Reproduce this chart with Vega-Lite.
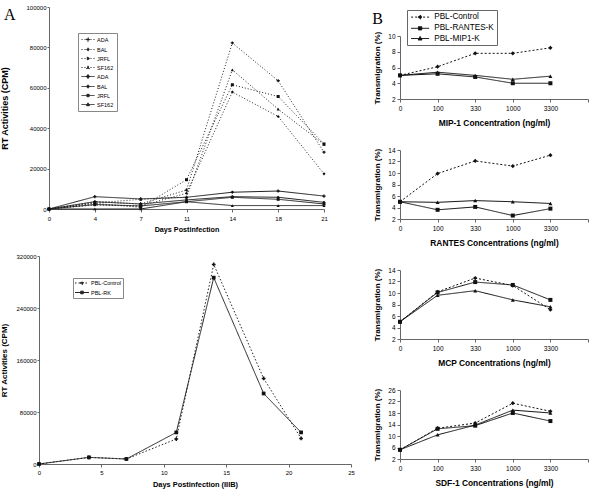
{
 "$schema": "https://vega.github.io/schema/vega-lite/v6.json",
 "background": "white",
 "padding": {"left": 0, "top": 4, "right": 4, "bottom": 4},
 "config": {
  "font": "Liberation Sans",
  "view": {"stroke": null},
  "axis": {"grid": false, "domainColor": "#666", "tickColor": "#666", "domainWidth": 1, "tickWidth": 1, "tickSize": 3, "labelColor": "#000", "titleColor": "#000", "labelFont": "Liberation Sans", "titleFont": "Liberation Sans", "titleFontWeight": "bold", "labelFlush": false, "labelOverlap": false},
  "legend": {"labelFont": "Liberation Sans", "labelColor": "#000", "strokeColor": "#888", "fillColor": "white"},
  "title": {"font": "Liberation Serif", "fontWeight": "normal", "color": "#000", "fontSize": 16, "anchor": "start", "frame": "bounds"}
 },
 "datasets": {
  "rtStrains": [
   {"day": 0, "cpm": 0, "series": "ADA (dotted)"}, {"day": 4, "cpm": 3600, "series": "ADA (dotted)"}, {"day": 7, "cpm": 2500, "series": "ADA (dotted)"}, {"day": 11, "cpm": 9400, "series": "ADA (dotted)"}, {"day": 14, "cpm": 82200, "series": "ADA (dotted)"}, {"day": 18, "cpm": 63500, "series": "ADA (dotted)"}, {"day": 21, "cpm": 28100, "series": "ADA (dotted)"},
   {"day": 0, "cpm": 0, "series": "BAL (dotted)"}, {"day": 4, "cpm": 2000, "series": "BAL (dotted)"}, {"day": 7, "cpm": 1500, "series": "BAL (dotted)"}, {"day": 11, "cpm": 7800, "series": "BAL (dotted)"}, {"day": 14, "cpm": 57900, "series": "BAL (dotted)"}, {"day": 18, "cpm": 45800, "series": "BAL (dotted)"}, {"day": 21, "cpm": 17400, "series": "BAL (dotted)"},
   {"day": 0, "cpm": 0, "series": "JRFL (dotted)"}, {"day": 4, "cpm": 2800, "series": "JRFL (dotted)"}, {"day": 7, "cpm": 800, "series": "JRFL (dotted)"}, {"day": 11, "cpm": 14500, "series": "JRFL (dotted)"}, {"day": 14, "cpm": 61500, "series": "JRFL (dotted)"}, {"day": 18, "cpm": 55700, "series": "JRFL (dotted)"}, {"day": 21, "cpm": 32200, "series": "JRFL (dotted)"},
   {"day": 0, "cpm": 0, "series": "SF162 (dotted)"}, {"day": 4, "cpm": 3000, "series": "SF162 (dotted)"}, {"day": 7, "cpm": 4800, "series": "SF162 (dotted)"}, {"day": 11, "cpm": 5800, "series": "SF162 (dotted)"}, {"day": 14, "cpm": 68900, "series": "SF162 (dotted)"}, {"day": 18, "cpm": 49400, "series": "SF162 (dotted)"}, {"day": 21, "cpm": 32000, "series": "SF162 (dotted)"},
   {"day": 0, "cpm": 0, "series": "ADA (solid)"}, {"day": 4, "cpm": 6100, "series": "ADA (solid)"}, {"day": 7, "cpm": 5000, "series": "ADA (solid)"}, {"day": 11, "cpm": 5800, "series": "ADA (solid)"}, {"day": 14, "cpm": 8300, "series": "ADA (solid)"}, {"day": 18, "cpm": 8900, "series": "ADA (solid)"}, {"day": 21, "cpm": 6400, "series": "ADA (solid)"},
   {"day": 0, "cpm": 0, "series": "BAL (solid)"}, {"day": 4, "cpm": 3600, "series": "BAL (solid)"}, {"day": 7, "cpm": 2500, "series": "BAL (solid)"}, {"day": 11, "cpm": 4500, "series": "BAL (solid)"}, {"day": 14, "cpm": 6100, "series": "BAL (solid)"}, {"day": 18, "cpm": 5800, "series": "BAL (solid)"}, {"day": 21, "cpm": 3300, "series": "BAL (solid)"},
   {"day": 0, "cpm": 0, "series": "JRFL (solid)"}, {"day": 4, "cpm": 2200, "series": "JRFL (solid)"}, {"day": 7, "cpm": 1500, "series": "JRFL (solid)"}, {"day": 11, "cpm": 3600, "series": "JRFL (solid)"}, {"day": 14, "cpm": 5800, "series": "JRFL (solid)"}, {"day": 18, "cpm": 4800, "series": "JRFL (solid)"}, {"day": 21, "cpm": 2500, "series": "JRFL (solid)"},
   {"day": 0, "cpm": 0, "series": "SF162 (solid)"}, {"day": 4, "cpm": 0, "series": "SF162 (solid)"}, {"day": 7, "cpm": 0, "series": "SF162 (solid)"}, {"day": 11, "cpm": 3600, "series": "SF162 (solid)"}, {"day": 14, "cpm": 1700, "series": "SF162 (solid)"}, {"day": 18, "cpm": 1700, "series": "SF162 (solid)"}, {"day": 21, "cpm": 1700, "series": "SF162 (solid)"}
  ],
  "rtIIIB": [
   {"day": 0, "cpm": 0, "series": "PBL-Control"}, {"day": 4, "cpm": 10200, "series": "PBL-Control"}, {"day": 7, "cpm": 7700, "series": "PBL-Control"}, {"day": 11, "cpm": 38400, "series": "PBL-Control"}, {"day": 14, "cpm": 307000, "series": "PBL-Control"}, {"day": 18, "cpm": 131600, "series": "PBL-Control"}, {"day": 21, "cpm": 39400, "series": "PBL-Control"},
   {"day": 0, "cpm": 0, "series": "PBL-RK"}, {"day": 4, "cpm": 10200, "series": "PBL-RK"}, {"day": 7, "cpm": 7700, "series": "PBL-RK"}, {"day": 11, "cpm": 48600, "series": "PBL-RK"}, {"day": 14, "cpm": 286700, "series": "PBL-RK"}, {"day": 18, "cpm": 108500, "series": "PBL-RK"}, {"day": 21, "cpm": 48600, "series": "PBL-RK"}
  ],
  "trans": [
   {"chemokine": "MIP-1", "conc": "0", "cells": "PBL-Control", "pct": 5.0}, {"chemokine": "MIP-1", "conc": "100", "cells": "PBL-Control", "pct": 6.1}, {"chemokine": "MIP-1", "conc": "330", "cells": "PBL-Control", "pct": 7.8}, {"chemokine": "MIP-1", "conc": "1000", "cells": "PBL-Control", "pct": 7.8}, {"chemokine": "MIP-1", "conc": "3300", "cells": "PBL-Control", "pct": 8.5},
   {"chemokine": "MIP-1", "conc": "0", "cells": "PBL-RANTES-K", "pct": 5.0}, {"chemokine": "MIP-1", "conc": "100", "cells": "PBL-RANTES-K", "pct": 5.2}, {"chemokine": "MIP-1", "conc": "330", "cells": "PBL-RANTES-K", "pct": 4.8}, {"chemokine": "MIP-1", "conc": "1000", "cells": "PBL-RANTES-K", "pct": 4.0}, {"chemokine": "MIP-1", "conc": "3300", "cells": "PBL-RANTES-K", "pct": 4.0},
   {"chemokine": "MIP-1", "conc": "0", "cells": "PBL-MIP1-K", "pct": 5.0}, {"chemokine": "MIP-1", "conc": "100", "cells": "PBL-MIP1-K", "pct": 5.4}, {"chemokine": "MIP-1", "conc": "330", "cells": "PBL-MIP1-K", "pct": 5.0}, {"chemokine": "MIP-1", "conc": "1000", "cells": "PBL-MIP1-K", "pct": 4.5}, {"chemokine": "MIP-1", "conc": "3300", "cells": "PBL-MIP1-K", "pct": 4.9},
   {"chemokine": "RANTES", "conc": "0", "cells": "PBL-Control", "pct": 5.0}, {"chemokine": "RANTES", "conc": "100", "cells": "PBL-Control", "pct": 9.9}, {"chemokine": "RANTES", "conc": "330", "cells": "PBL-Control", "pct": 12.1}, {"chemokine": "RANTES", "conc": "1000", "cells": "PBL-Control", "pct": 11.2}, {"chemokine": "RANTES", "conc": "3300", "cells": "PBL-Control", "pct": 13.1},
   {"chemokine": "RANTES", "conc": "0", "cells": "PBL-RANTES-K", "pct": 5.0}, {"chemokine": "RANTES", "conc": "100", "cells": "PBL-RANTES-K", "pct": 3.6}, {"chemokine": "RANTES", "conc": "330", "cells": "PBL-RANTES-K", "pct": 4.1}, {"chemokine": "RANTES", "conc": "1000", "cells": "PBL-RANTES-K", "pct": 2.6}, {"chemokine": "RANTES", "conc": "3300", "cells": "PBL-RANTES-K", "pct": 3.8},
   {"chemokine": "RANTES", "conc": "0", "cells": "PBL-MIP1-K", "pct": 5.0}, {"chemokine": "RANTES", "conc": "100", "cells": "PBL-MIP1-K", "pct": 4.9}, {"chemokine": "RANTES", "conc": "330", "cells": "PBL-MIP1-K", "pct": 5.2}, {"chemokine": "RANTES", "conc": "1000", "cells": "PBL-MIP1-K", "pct": 5.0}, {"chemokine": "RANTES", "conc": "3300", "cells": "PBL-MIP1-K", "pct": 4.7},
   {"chemokine": "MCP", "conc": "0", "cells": "PBL-Control", "pct": 5.0}, {"chemokine": "MCP", "conc": "100", "cells": "PBL-Control", "pct": 10.2}, {"chemokine": "MCP", "conc": "330", "cells": "PBL-Control", "pct": 12.6}, {"chemokine": "MCP", "conc": "1000", "cells": "PBL-Control", "pct": 11.3}, {"chemokine": "MCP", "conc": "3300", "cells": "PBL-Control", "pct": 7.1},
   {"chemokine": "MCP", "conc": "0", "cells": "PBL-RANTES-K", "pct": 5.0}, {"chemokine": "MCP", "conc": "100", "cells": "PBL-RANTES-K", "pct": 10.1}, {"chemokine": "MCP", "conc": "330", "cells": "PBL-RANTES-K", "pct": 11.9}, {"chemokine": "MCP", "conc": "1000", "cells": "PBL-RANTES-K", "pct": 11.4}, {"chemokine": "MCP", "conc": "3300", "cells": "PBL-RANTES-K", "pct": 8.8},
   {"chemokine": "MCP", "conc": "0", "cells": "PBL-MIP1-K", "pct": 5.0}, {"chemokine": "MCP", "conc": "100", "cells": "PBL-MIP1-K", "pct": 9.6}, {"chemokine": "MCP", "conc": "330", "cells": "PBL-MIP1-K", "pct": 10.4}, {"chemokine": "MCP", "conc": "1000", "cells": "PBL-MIP1-K", "pct": 8.8}, {"chemokine": "MCP", "conc": "3300", "cells": "PBL-MIP1-K", "pct": 7.6},
   {"chemokine": "SDF-1", "conc": "0", "cells": "PBL-Control", "pct": 5.2}, {"chemokine": "SDF-1", "conc": "100", "cells": "PBL-Control", "pct": 12.7}, {"chemokine": "SDF-1", "conc": "330", "cells": "PBL-Control", "pct": 14.5}, {"chemokine": "SDF-1", "conc": "1000", "cells": "PBL-Control", "pct": 21.4}, {"chemokine": "SDF-1", "conc": "3300", "cells": "PBL-Control", "pct": 18.6},
   {"chemokine": "SDF-1", "conc": "0", "cells": "PBL-RANTES-K", "pct": 5.2}, {"chemokine": "SDF-1", "conc": "100", "cells": "PBL-RANTES-K", "pct": 12.5}, {"chemokine": "SDF-1", "conc": "330", "cells": "PBL-RANTES-K", "pct": 13.6}, {"chemokine": "SDF-1", "conc": "1000", "cells": "PBL-RANTES-K", "pct": 18.0}, {"chemokine": "SDF-1", "conc": "3300", "cells": "PBL-RANTES-K", "pct": 15.2},
   {"chemokine": "SDF-1", "conc": "0", "cells": "PBL-MIP1-K", "pct": 5.2}, {"chemokine": "SDF-1", "conc": "100", "cells": "PBL-MIP1-K", "pct": 10.4}, {"chemokine": "SDF-1", "conc": "330", "cells": "PBL-MIP1-K", "pct": 13.8}, {"chemokine": "SDF-1", "conc": "1000", "cells": "PBL-MIP1-K", "pct": 19.0}, {"chemokine": "SDF-1", "conc": "3300", "cells": "PBL-MIP1-K", "pct": 18.0}
  ]
 },
 "columns": 2,
 "align": "none",
 "spacing": 17,
 "resolve": {"scale": {"strokeDash": "independent"}, "legend": {"strokeDash": "independent"}},
 "concat": [
  {
   "columns": 1,
   "align": "none",
   "spacing": 20,
   "resolve": {"scale": {"strokeDash": "independent"}, "legend": {"strokeDash": "independent"}},
   "concat": [
    {
     "data": {"name": "rtStrains"},
     "width": 285, "height": 202,
     "title": {"text": "A", "dx": 3, "offset": -19},
     "encoding": {
      "x": {"field": "day", "type": "ordinal", "scale": {"type": "point", "padding": 0, "domain": [0, 4, 7, 11, 14, 18, 21], "range": [10, 285]}, "axis": {"title": "Days Postinfection", "labelAngle": 0, "labelFontSize": 6, "labelPadding": 3, "titleFontSize": 7.2, "titlePadding": 4}},
      "y": {"field": "cpm", "type": "quantitative", "scale": {"domain": [0, 100000], "nice": false}, "axis": {"title": "RT Activities (CPM)", "offset": -10, "values": [0, 20000, 40000, 60000, 80000, 100000], "format": "d", "labelFontSize": 6, "tickSize": 2, "labelPadding": 1, "titleFontSize": 9, "titlePadding": 16}}
     },
     "layer": [
      {
       "mark": {"type": "line", "color": "#222", "strokeWidth": 1},
       "encoding": {"strokeDash": {"field": "series", "type": "nominal",
        "scale": {"domain": ["ADA (dotted)", "BAL (dotted)", "JRFL (dotted)", "SF162 (dotted)", "ADA (solid)", "BAL (solid)", "JRFL (solid)", "SF162 (solid)"], "range": [[1, 2], [1, 2], [1, 2], [1, 2], [1, 0], [1, 0], [1, 0], [1, 0]]},
        "legend": {"title": null, "orient": "none", "legendX": 39, "legendY": 26, "labelFontSize": 5.5, "symbolSize": 36, "symbolStrokeWidth": 1, "symbolStrokeColor": "#222", "symbolFillColor": "#222", "labelOffset": 9, "padding": 3, "rowPadding": 1, "strokeColor": "#888", "fillColor": "white", "labelExpr": "split(datum.label, ' ')[0]",
         "encode": {"symbols": {"update": {"shape": {"signal": "['M-1,0H3.33M0.62,-0.15H1.02V-0.55H1.32V-0.15H1.72V0.15H1.32V0.55H1.02V0.15H0.62Z','M-1,0H3.33M1.17,-0.55L1.72,0L1.17,0.55L0.62,0Z','M-1,0H3.33M0.8,-0.4H1.54V0.4H0.8Z','M-1,0H3.33M1.17,-0.55L1.7,0.4H0.64Z','M-1,0H3.33M0.62,-0.15H1.02V-0.55H1.32V-0.15H1.72V0.15H1.32V0.55H1.02V0.15H0.62Z','M-1,0H3.33M1.17,-0.55L1.72,0L1.17,0.55L0.62,0Z','M-1,0H3.33M0.8,-0.4H1.54V0.4H0.8Z','M-1,0H3.33M1.17,-0.55L1.7,0.4H0.64Z'][datum.index]"}, "fill": {"value": "#222"}, "stroke": {"value": "#222"}, "strokeWidth": {"value": 1}, "opacity": {"value": 1}}}}}}}
      },
      {"transform": [{"filter": {"field": "series", "oneOf": ["ADA (dotted)", "ADA (solid)"]}}], "mark": {"type": "point", "shape": "cross", "filled": true, "color": "#111", "size": 10, "opacity": 1}},
      {"transform": [{"filter": {"field": "series", "oneOf": ["BAL (dotted)", "BAL (solid)"]}}], "mark": {"type": "point", "shape": "diamond", "filled": true, "color": "#111", "size": 10, "opacity": 1}},
      {"transform": [{"filter": {"field": "series", "oneOf": ["JRFL (dotted)", "JRFL (solid)"]}}], "mark": {"type": "point", "shape": "square", "filled": true, "color": "#111", "size": 9, "opacity": 1}},
      {"transform": [{"filter": {"field": "series", "oneOf": ["SF162 (dotted)", "SF162 (solid)"]}}], "mark": {"type": "point", "shape": "triangle-up", "filled": true, "color": "#111", "size": 10, "opacity": 1}}
     ]
    },
    {
     "data": {"name": "rtIIIB"},
     "width": 312, "height": 208,
     "encoding": {
      "x": {"field": "day", "type": "quantitative", "scale": {"domain": [0, 25], "nice": false}, "axis": {"title": "Days Postinfection (IIIB)", "values": [0, 5, 10, 15, 20, 25], "labelFontSize": 6, "labelPadding": 2, "titleFontSize": 7.4, "titlePadding": 5}},
      "y": {"field": "cpm", "type": "quantitative", "scale": {"domain": [0, 320000], "nice": false}, "axis": {"title": "RT Activities (CPM)", "values": [0, 80000, 160000, 240000, 320000], "format": "d", "labelFontSize": 6, "tickSize": 2, "labelPadding": 1, "titleFontSize": 8, "titlePadding": 7}}
     },
     "layer": [
      {
       "mark": {"type": "line", "color": "#222", "strokeWidth": 1},
       "encoding": {"strokeDash": {"field": "series", "type": "nominal",
        "scale": {"domain": ["PBL-Control", "PBL-RK"], "range": [[1.5, 2], [1, 0]]},
        "legend": {"title": null, "orient": "none", "legendX": 34, "legendY": 22, "labelFontSize": 5.5, "symbolSize": 36, "symbolStrokeWidth": 1, "symbolStrokeColor": "#222", "symbolFillColor": "#222", "labelOffset": 9.5, "padding": 1.5, "rowPadding": 2.5, "strokeColor": "#888", "fillColor": "white",
         "encode": {"symbols": {"update": {"shape": {"signal": "['M-1,0H3.67M0.83,-0.17H1.17V-0.5H1.5V-0.17H1.83V0.17H1.5V0.5H1.17V0.17H0.83Z','M-1,0H3.67M0.9,-0.45H1.77V0.45H0.9Z'][datum.index]"}, "fill": {"value": "#222"}, "stroke": {"value": "#222"}, "strokeWidth": {"value": 1}, "opacity": {"value": 1}}}}}}}
      },
      {"transform": [{"filter": "datum.series == 'PBL-Control'"}], "mark": {"type": "point", "shape": "cross", "filled": true, "color": "#111", "size": 14, "opacity": 1}},
      {"transform": [{"filter": "datum.series == 'PBL-RK'"}], "mark": {"type": "point", "shape": "square", "filled": true, "color": "#111", "size": 14, "opacity": 1}}
     ]
    }
   ]
  },
  {
   "columns": 1,
   "align": "none",
   "spacing": 20,
   "resolve": {"scale": {"strokeDash": "independent"}, "legend": {"strokeDash": "independent"}},
   "concat": [
    {
     "data": {"name": "trans"},
     "transform": [{"filter": "datum.chemokine == 'MIP-1'"}],
     "width": 188, "height": 92,
     "title": {"text": "B", "dx": -1, "offset": -20},
     "encoding": {
      "x": {"field": "conc", "type": "ordinal", "scale": {"type": "point", "padding": 0, "domain": ["0", "100", "330", "1000", "3300", "_"]}, "axis": {"title": "MIP-1 Concentration (ng/ml)", "labelAngle": 0, "labelExpr": "datum.value == '_' ? '' : datum.label", "labelFontSize": 6.5, "labelPadding": 3, "titleFontSize": 8.4, "titlePadding": 7}},
      "y": {"field": "pct", "type": "quantitative", "scale": {"domain": [2, 10], "nice": false, "zero": false, "range": [92, 29]}, "axis": {"title": "Transmigration (%)", "values": [2, 4, 6, 8, 10], "labelFontSize": 6.5, "labelPadding": 2, "titleFontSize": 8, "titlePadding": 6.5}}
     },
     "layer": [
      {
       "mark": {"type": "line", "color": "#111", "strokeWidth": 1},
       "encoding": {"strokeDash": {"field": "cells", "type": "nominal",
        "scale": {"domain": ["PBL-Control", "PBL-RANTES-K", "PBL-MIP1-K"], "range": [[2, 2], [1, 0], [1, 0]]},
        "legend": {"title": null, "orient": "none", "legendX": 7, "legendY": 3, "labelFontSize": 8.2, "symbolSize": 36, "symbolStrokeWidth": 1, "symbolStrokeColor": "#111", "symbolFillColor": "#111", "labelOffset": 16, "padding": 3, "rowPadding": 1.2, "strokeColor": "#666", "fillColor": "white",
         "encode": {"symbols": {"update": {"shape": {"signal": "['M-1,0H5M2,-0.7L2.7,0L2,0.7L1.3,0Z','M-1,0H5M1.45,-0.55H2.55V0.55H1.45Z','M-1,0H5M2,-0.7L2.65,0.5H1.35Z'][datum.index]"}, "fill": {"value": "#111"}, "stroke": {"value": "#111"}, "strokeWidth": {"value": 1}, "opacity": {"value": 1}}}}}}}
      },
      {"transform": [{"filter": "datum.cells == 'PBL-Control'"}], "mark": {"type": "point", "shape": "diamond", "filled": true, "color": "#111", "size": 18, "opacity": 1}},
      {"transform": [{"filter": "datum.cells == 'PBL-RANTES-K'"}], "mark": {"type": "point", "shape": "square", "filled": true, "color": "#111", "size": 16, "opacity": 1}},
      {"transform": [{"filter": "datum.cells == 'PBL-MIP1-K'"}], "mark": {"type": "point", "shape": "triangle-up", "filled": true, "color": "#111", "size": 16, "opacity": 1}}
     ]
    },
    {
     "data": {"name": "trans"},
     "transform": [{"filter": "datum.chemokine == 'RANTES'"}],
     "width": 188, "height": 69,
     "encoding": {
      "x": {"field": "conc", "type": "ordinal", "scale": {"type": "point", "padding": 0, "domain": ["0", "100", "330", "1000", "3300", "_"]}, "axis": {"title": "RANTES Concentrations (ng/ml)", "labelAngle": 0, "labelExpr": "datum.value == '_' ? '' : datum.label", "labelFontSize": 6.5, "labelPadding": 3, "titleFontSize": 8.4, "titlePadding": 7}},
      "y": {"field": "pct", "type": "quantitative", "scale": {"domain": [2, 14], "nice": false, "zero": false}, "axis": {"title": "Transmigration (%)", "values": [2, 4, 6, 8, 10, 12, 14], "labelFontSize": 6.5, "labelPadding": 2, "titleFontSize": 8, "titlePadding": 6.5}}
     },
     "layer": [
      {"mark": {"type": "line", "color": "#111", "strokeWidth": 1}, "encoding": {"strokeDash": {"field": "cells", "type": "nominal", "scale": {"domain": ["PBL-Control", "PBL-RANTES-K", "PBL-MIP1-K"], "range": [[2, 2], [1, 0], [1, 0]]}, "legend": null}}},
      {"transform": [{"filter": "datum.cells == 'PBL-Control'"}], "mark": {"type": "point", "shape": "diamond", "filled": true, "color": "#111", "size": 18, "opacity": 1}},
      {"transform": [{"filter": "datum.cells == 'PBL-RANTES-K'"}], "mark": {"type": "point", "shape": "square", "filled": true, "color": "#111", "size": 16, "opacity": 1}},
      {"transform": [{"filter": "datum.cells == 'PBL-MIP1-K'"}], "mark": {"type": "point", "shape": "triangle-up", "filled": true, "color": "#111", "size": 16, "opacity": 1}}
     ]
    },
    {
     "data": {"name": "trans"},
     "transform": [{"filter": "datum.chemokine == 'MCP'"}],
     "width": 188, "height": 69,
     "encoding": {
      "x": {"field": "conc", "type": "ordinal", "scale": {"type": "point", "padding": 0, "domain": ["0", "100", "330", "1000", "3300", "_"]}, "axis": {"title": "MCP Concentrations (ng/ml)", "labelAngle": 0, "labelExpr": "datum.value == '_' ? '' : datum.label", "labelFontSize": 6.5, "labelPadding": 3, "titleFontSize": 8.4, "titlePadding": 7}},
      "y": {"field": "pct", "type": "quantitative", "scale": {"domain": [2, 14], "nice": false, "zero": false}, "axis": {"title": "Transmigration (%)", "values": [2, 4, 6, 8, 10, 12, 14], "labelFontSize": 6.5, "labelPadding": 2, "titleFontSize": 8, "titlePadding": 6.5}}
     },
     "layer": [
      {"mark": {"type": "line", "color": "#111", "strokeWidth": 1}, "encoding": {"strokeDash": {"field": "cells", "type": "nominal", "scale": {"domain": ["PBL-Control", "PBL-RANTES-K", "PBL-MIP1-K"], "range": [[2, 2], [1, 0], [1, 0]]}, "legend": null}}},
      {"transform": [{"filter": "datum.cells == 'PBL-Control'"}], "mark": {"type": "point", "shape": "diamond", "filled": true, "color": "#111", "size": 18, "opacity": 1}},
      {"transform": [{"filter": "datum.cells == 'PBL-RANTES-K'"}], "mark": {"type": "point", "shape": "square", "filled": true, "color": "#111", "size": 16, "opacity": 1}},
      {"transform": [{"filter": "datum.cells == 'PBL-MIP1-K'"}], "mark": {"type": "point", "shape": "triangle-up", "filled": true, "color": "#111", "size": 16, "opacity": 1}}
     ]
    },
    {
     "data": {"name": "trans"},
     "transform": [{"filter": "datum.chemokine == 'SDF-1'"}],
     "width": 188, "height": 69,
     "encoding": {
      "x": {"field": "conc", "type": "ordinal", "scale": {"type": "point", "padding": 0, "domain": ["0", "100", "330", "1000", "3300", "_"]}, "axis": {"title": "SDF-1 Concentrations (ng/ml)", "labelAngle": 0, "labelExpr": "datum.value == '_' ? '' : datum.label", "labelFontSize": 6.5, "labelPadding": 3, "titleFontSize": 8.4, "titlePadding": 7}},
      "y": {"field": "pct", "type": "quantitative", "scale": {"domain": [2, 26], "nice": false, "zero": false}, "axis": {"title": "Transmigration (%)", "values": [2, 6, 10, 14, 18, 22, 26], "labelFontSize": 6.5, "labelPadding": 2, "titleFontSize": 8, "titlePadding": 6.5}}
     },
     "layer": [
      {"mark": {"type": "line", "color": "#111", "strokeWidth": 1}, "encoding": {"strokeDash": {"field": "cells", "type": "nominal", "scale": {"domain": ["PBL-Control", "PBL-RANTES-K", "PBL-MIP1-K"], "range": [[2, 2], [1, 0], [1, 0]]}, "legend": null}}},
      {"transform": [{"filter": "datum.cells == 'PBL-Control'"}], "mark": {"type": "point", "shape": "diamond", "filled": true, "color": "#111", "size": 18, "opacity": 1}},
      {"transform": [{"filter": "datum.cells == 'PBL-RANTES-K'"}], "mark": {"type": "point", "shape": "square", "filled": true, "color": "#111", "size": 16, "opacity": 1}},
      {"transform": [{"filter": "datum.cells == 'PBL-MIP1-K'"}], "mark": {"type": "point", "shape": "triangle-up", "filled": true, "color": "#111", "size": 16, "opacity": 1}}
     ]
    }
   ]
  }
 ]
}
